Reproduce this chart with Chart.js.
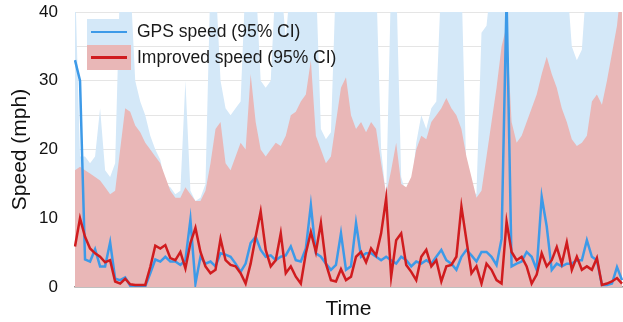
<!DOCTYPE html>
<html>
<head>
<meta charset="utf-8">
<script src="https://cdn.jsdelivr.net/npm/chart.js@4.4.0/dist/chart.umd.min.js"></script>
<style>
  html, body { margin: 0; padding: 0; background: #fff; }
  #wrap { position: relative; width: 623px; height: 322px; }
  #legend {
    position: absolute; left: 87px; top: 19px;
    font-family: "Liberation Sans", Arial, sans-serif; font-size: 17.5px; color: #1a1a1a;
  }
  .row { display: flex; align-items: center; height: 25.5px; }
  .swatch { position: relative; width: 44px; height: 100%; }
  .swatch i { position: absolute; left: 4px; right: 4px; top: 50%; height: 2.5px; margin-top: -1px; }
  .row span { margin-left: 6px; }
</style>
</head>
<body>
<div id="wrap">
  <canvas id="speedChart" width="623" height="322"></canvas>
  <div id="legend">
    <div class="row"><div class="swatch" style="background:#d4e8f8"><i style="background:#3d9ae8"></i></div><span>GPS speed (95% CI)</span></div>
    <div class="row"><div class="swatch" style="background:#e9b7b7"><i style="background:#d01c1f"></i></div><span>Improved speed (95% CI)</span></div>
  </div>
</div>
<script>
// vitesse GPS brute (mph), un point tous les ~5 px de temps
const gpsSpeed = [
  33, 30, 4, 3.7, 5.5, 3.0, 3.0, 6.5, 1.2, 1.0,
  1.4, 0.2, 0.2, 0.1, 0.1, 2.0, 4.0, 3.7, 4.4, 3.7,
  3.7, 3.2, 3.9, 9.8, 0.5, 4.4, 3.4, 3.7, 3.0, 4.9,
  4.7, 4.4, 3.4, 2.2, 3.4, 6.4, 7.3, 5.4, 4.4, 4.6,
  3.9, 4.4, 4.6, 5.9, 3.9, 3.7, 5.6, 11.9, 4.9, 4.4,
  3.4, 2.5, 3.2, 7.8, 2.5, 3.0, 9.3, 4.4, 4.9, 4.9,
  4.4, 3.9, 4.4, 3.9, 3.4, 4.4, 3.9, 3.0, 3.7, 3.4,
  3.9, 3.4, 4.4, 5.4, 3.9, 3.4, 2.5, 4.4, 5.4, 4.6,
  3.7, 5.1, 5.1, 4.4, 3.2, 7.0, 42, 3.0, 3.4, 3.7,
  5.1, 4.4, 2.5, 13.1, 8.8, 2.5, 3.4, 3.0, 3.4, 3.4,
  3.9, 3.9, 6.8, 4.4, 3.9, 0.3, 0.3, 0.5, 2.9, 1.0
];

const improvedSpeed = [
  5.9, 10, 7.3, 5.6, 4.9, 4.4, 3.6, 3.9, 0.8, 0.5,
  1.2, 0.4, 0.3, 0.3, 0.3, 2.9, 6.0, 5.6, 6.1, 4.2,
  3.9, 5.1, 2.7, 6.4, 8.6, 5.1, 3.0, 2.0, 2.5, 7.0,
  3.9, 3.2, 3.0, 2.0, 0.5, 3.4, 7.3, 11.0, 5.4, 3.0,
  3.9, 7.8, 2.0, 3.0, 1.5, 0.5, 4.9, 8.0, 5.1, 9.3,
  3.4, 1.0, 0.8, 2.6, 1.0, 1.5, 4.4, 5.1, 3.6, 5.6,
  4.6, 7.8, 12.9, 1.5, 6.8, 7.8, 3.2, 2.2, 1.0, 4.4,
  5.4, 3.0, 3.9, 0.8, 3.0, 3.2, 4.4, 11.7, 6.8, 2.0,
  3.0, 0.5, 3.4, 2.5, 1.0, 0.5, 9.5, 5.1, 3.9, 4.4,
  3.0, 0.5, 1.8, 4.9, 3.0, 3.9, 5.8, 3.4, 6.5, 2.5,
  4.4, 2.5, 3.0, 2.5, 4.2, 0.3, 0.5, 0.8, 1.3, 0.5
];

// bornes hautes des intervalles de confiance (borne basse = 0)
const gpsUpper = [
  45, 19, 19, 18, 19, 26, 17, 16, 18, 45,
  45, 45, 30, 27, 25, 22, 20, 18.5, 15, 14.5,
  13.5, 14, 30, 14, 12.5, 13, 15, 45, 45, 30,
  26, 25, 26, 27, 45, 45, 45, 30, 29, 30,
  45, 45, 36, 45, 45, 45, 45, 45, 45, 23,
  21.5, 22.5, 45, 45, 45, 45, 45, 45, 45, 45,
  45, 20, 13, 45, 45, 16, 13.5, 14, 21, 25,
  23, 26, 27, 45, 45, 45, 45, 45, 16, 14,
  13.5, 37, 38, 45, 45, 45, 45, 45, 45, 45,
  45, 45, 45, 45, 45, 45, 45, 45, 45, 35,
  33, 34.5, 45, 45, 45, 45, 45, 45, 45, 45
];

const improvedUpper = [
  17, 17.5, 17, 16.5, 16, 15.5, 14.5, 13.5, 14, 20,
  26, 25.5, 23.5, 22.5, 21, 20, 19, 18, 16, 14,
  13, 13, 14.5, 13.5, 12.5, 12.5, 14, 18, 23, 24,
  18, 17, 19, 21, 20, 31, 24, 20, 19, 20,
  21, 20.5, 22, 25, 25.5, 27, 28, 33, 22, 20,
  18, 19, 24, 29, 30.5, 25, 23, 24, 22.5, 24,
  23, 18, 13.5, 17, 21, 15, 14.5, 16, 20, 22,
  21.5, 24, 25, 26, 27.5, 26, 25, 23, 19, 16,
  13, 14, 19, 24, 29, 35, 38, 24, 21, 22,
  24, 26, 28, 31, 33.5, 31, 29, 26, 24, 21.5,
  20.5, 21, 22, 27, 28, 26.5, 30, 34, 38, 45
];

const timeSteps = gpsSpeed.map((_, i) => i);

Chart.defaults.font.family = '"Liberation Sans", Arial, sans-serif';
Chart.defaults.color = '#111';

const canvas = document.getElementById('speedChart');

new Chart(canvas, {
  type: 'line',
  data: {
    labels: timeSteps,
    datasets: [
      {
        label: 'Improved speed',
        data: improvedSpeed,
        borderColor: '#d01c1f',
        borderWidth: 2.5,
        fill: false,
        order: 0
      },
      {
        label: 'GPS speed',
        data: gpsSpeed,
        borderColor: '#3d9ae8',
        borderWidth: 2.5,
        fill: false,
        order: 1
      },
      {
        label: 'Improved CI',
        data: improvedUpper,
        borderWidth: 0,
        backgroundColor: '#e9b7b7',
        fill: 'origin',
        order: 2
      },
      {
        label: 'GPS CI',
        data: gpsUpper,
        borderWidth: 0,
        backgroundColor: '#d4e8f8',
        fill: 'origin',
        order: 3
      }
    ]
  },
  options: {
    responsive: false,
    animation: false,
    layout: { padding: { top: 12, right: 1, left: 0, bottom: 0 } },
    elements: { point: { radius: 0 }, line: { tension: 0 } },
    plugins: {
      legend: { display: false },
      tooltip: { enabled: false }
    },
    scales: {
      x: {
        grid: { display: false },
        ticks: { display: false },
        border: { color: '#999', width: 1.5 },
        title: { display: true, text: 'Time', font: { size: 21 }, padding: { top: 4, bottom: 0 } },
        afterFit: (scale) => { scale.height = 35; }
      },
      y: {
        min: 0,
        max: 40,
        z: 1,
        ticks: {
          stepSize: 5,
          padding: 17,
          font: { size: 17 },
          callback: (v) => (v % 10 === 0 ? v : '')
        },
        grid: { color: 'rgba(0,0,0,0.1)', drawTicks: false },
        border: { display: false },
        title: { display: true, text: 'Speed (mph)', font: { size: 21 }, padding: { top: 8, bottom: 4 } },
        afterFit: (scale) => {
          scale.width = 75;
          // la marge haute vient du layout, pas des étiquettes
          scale.paddingTop = 0;
          scale.paddingBottom = 0;
        }
      }
    }
  }
});
</script>
</body>
</html>
